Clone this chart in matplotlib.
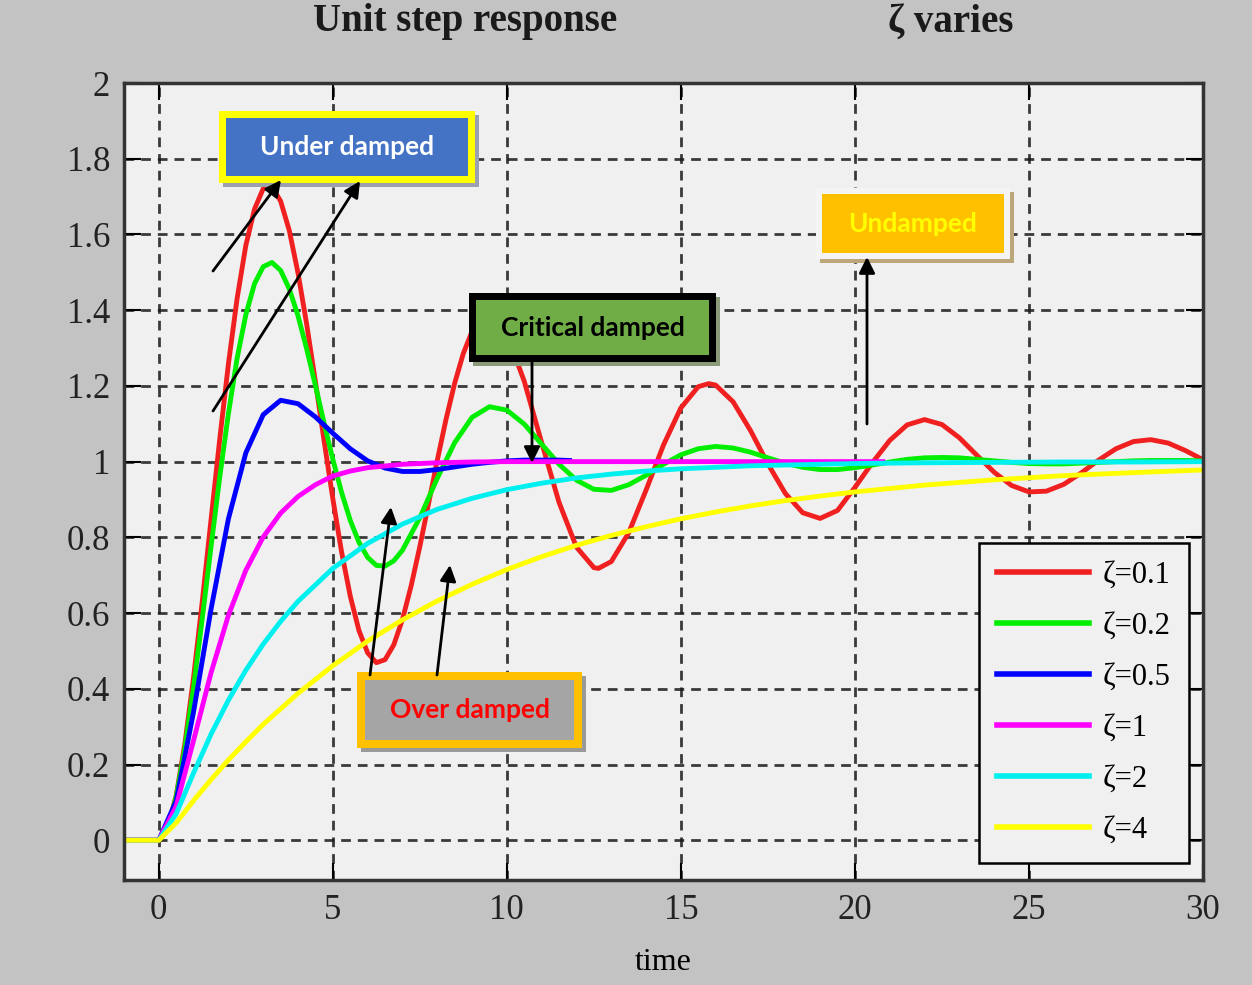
import matplotlib
matplotlib.use("Agg")
import matplotlib.pyplot as plt
from matplotlib.patches import Rectangle, FancyArrowPatch

# ---------------- data ----------------
t_z01 = [-1.0, 0.0, 0.25, 0.5, 0.75, 1.0, 1.25, 1.5, 1.75, 2.0, 2.25, 2.5, 2.75, 3.0, 3.25,
         3.5, 3.75, 4.0, 4.25, 4.5, 4.75, 5.0, 5.25, 5.5, 5.75, 6.0, 6.25, 6.5, 6.75, 7.0,
         7.25, 7.5, 7.75, 8.0, 8.25, 8.5, 8.75, 9.0, 9.5, 10.0, 10.5, 11.0, 11.5, 12.0, 12.5,
         12.63, 13.0, 13.5, 14.0, 14.5, 15.0, 15.5, 15.8, 16.0, 16.5, 17.0, 17.5, 18.0, 18.5,
         19.0, 19.5, 20.0, 20.5, 21.0, 21.5, 22.0, 22.5, 23.0, 23.5, 24.0, 24.5, 25.0, 25.5,
         26.0, 26.5, 27.0, 27.5, 28.0, 28.5, 29.0, 29.5, 30.0]
y_z01 = [0.0, 0.0, 0.031, 0.118, 0.256, 0.431, 0.632, 0.846, 1.059, 1.258, 1.431, 1.571,
         1.667, 1.721, 1.726, 1.688, 1.610, 1.498, 1.362, 1.211, 1.054, 0.902, 0.762, 0.645,
         0.554, 0.495, 0.469, 0.477, 0.516, 0.583, 0.672, 0.776, 0.889, 1.003, 1.111, 1.207,
         1.286, 1.344, 1.388, 1.337, 1.212, 1.050, 0.892, 0.774, 0.720, 0.718, 0.736, 0.812,
         0.925, 1.044, 1.142, 1.198, 1.206, 1.202, 1.158, 1.082, 0.994, 0.916, 0.865, 0.850,
         0.871, 0.932, 0.997, 1.056, 1.097, 1.111, 1.098, 1.063, 1.017, 0.972, 0.937, 0.920,
         0.922, 0.940, 0.970, 1.004, 1.034, 1.053, 1.058, 1.049, 1.029, 1.005]

t_z02 = [-1.0, 0.0, 0.25, 0.5, 0.75, 1.0, 1.25, 1.5, 1.75, 2.0, 2.25, 2.5, 2.75, 3.0, 3.25,
         3.5, 3.75, 4.0, 4.25, 4.5, 4.75, 5.0, 5.25, 5.5, 5.75, 6.0, 6.25, 6.5, 6.75, 7.0,
         7.5, 8.0, 8.5, 9.0, 9.5, 10.0, 10.5, 11.0, 11.5, 12.0, 12.5, 13.0, 13.5, 14.0, 14.5,
         15.0, 15.5, 16.0, 16.5, 17.0, 17.5, 18.0, 18.5, 19.0, 19.5, 20.0, 20.5, 21.0, 21.5,
         22.0, 22.5, 23.0, 23.5, 24.0, 24.5, 25.0, 25.5, 26.0, 26.5, 27.0, 27.5, 28.0, 28.5,
         29.0, 29.5, 30.0]
y_z02 = [0.0, 0.0, 0.030, 0.115, 0.244, 0.405, 0.587, 0.775, 0.959, 1.127, 1.273, 1.388,
         1.470, 1.515, 1.526, 1.505, 1.456, 1.385, 1.297, 1.201, 1.101, 1.006, 0.919, 0.845,
         0.787, 0.747, 0.726, 0.724, 0.738, 0.766, 0.852, 0.956, 1.050, 1.117, 1.145, 1.136,
         1.099, 1.046, 0.993, 0.951, 0.927, 0.924, 0.939, 0.964, 0.993, 1.018, 1.034, 1.040,
         1.036, 1.025, 1.010, 0.996, 0.985, 0.979, 0.979, 0.984, 0.991, 0.999, 1.006, 1.010,
         1.011, 1.010, 1.006, 1.002, 0.998, 0.995, 0.994, 0.994, 0.996, 0.998, 1.000, 1.002,
         1.003, 1.003, 1.003, 1.002]

t_z05 = [-1.0, 0.0, 0.5, 1.0, 1.5, 2.0, 2.5, 3.0, 3.5, 4.0, 4.5, 5.0, 5.5, 6.0, 6.5, 7.0,
         7.5, 8.0, 8.5, 9.0, 9.5, 10.0, 10.5, 11.0, 11.5, 11.8]
y_z05 = [0.0, 0.0, 0.104, 0.340, 0.610, 0.849, 1.023, 1.124, 1.162, 1.153, 1.118, 1.075,
         1.034, 1.002, 0.983, 0.974, 0.974, 0.979, 0.986, 0.993, 0.998, 1.002, 1.004, 1.004,
         1.004, 1.003]

t_z1 = [-1.0, 0.0, 0.5, 1.0, 1.5, 2.0, 2.5, 3.0, 3.5, 4.0, 4.5, 5.0, 5.5, 6.0,
        7.0, 8.0, 9.0, 10.0, 12.0, 15.0, 20.8]
y_z1 = [0.0, 0.0, 0.090, 0.264, 0.442, 0.594, 0.713, 0.801, 0.864, 0.908, 0.939, 0.962,
        0.975, 0.984, 0.993, 0.997, 0.999, 1.000, 1.000, 1.000, 1.000]

t_z2 = [-1.0, 0.0, 0.5, 1.0, 1.5, 2.0, 2.5, 3.0, 3.5, 4.0, 5.0, 6.0, 7.0, 8.0, 9.0, 10.0,
        11.0, 12.0, 13.0, 14.0, 15.0, 16.0, 17.0, 18.0, 20.0, 22.0, 24.0, 26.0, 28.0, 30.0]
y_z2 = [0.0, 0.0, 0.070, 0.178, 0.280, 0.370, 0.449, 0.518, 0.578, 0.631, 0.718, 0.784,
        0.835, 0.874, 0.903, 0.926, 0.943, 0.957, 0.967, 0.975, 0.981, 0.985, 0.989, 0.991,
        0.995, 0.997, 0.998, 0.999, 0.999, 1.000]

t_z4 = [-1.0, 0.0, 0.5, 1.0, 1.5, 2.0, 2.5, 3.0, 4.0, 5.0, 6.0, 7.0, 8.0, 9.0, 10.0, 11.0,
        12.0, 13.0, 14.0, 15.0, 16.0, 17.0, 18.0, 19.0, 20.0, 22.0, 24.0, 26.0, 28.0, 30.0]
y_z4 = [0.0, 0.0, 0.046, 0.105, 0.160, 0.212, 0.260, 0.306, 0.388, 0.461, 0.526, 0.582,
        0.632, 0.676, 0.715, 0.749, 0.779, 0.805, 0.828, 0.849, 0.867, 0.883, 0.897, 0.909,
        0.920, 0.938, 0.952, 0.963, 0.971, 0.978]

series_labels = ["\u03b6=0.1", "\u03b6=0.2", "\u03b6=0.5", "\u03b6=1", "\u03b6=2", "\u03b6=4"]
series_colors = ["#f02020", "#00ee00", "#0000ff", "#ff00ff", "#00f0f0", "#ffff00"]

x_ticks = [0, 5, 10, 15, 20, 25, 30]
y_ticks = [0, 0.2, 0.4, 0.6, 0.8, 1.0, 1.2, 1.4, 1.6, 1.8, 2.0]
y_ticklabels = ["0", "0.2", "0.4", "0.6", "0.8", "1", "1.2", "1.4", "1.6", "1.8", "2"]

# ---------------- figure ----------------
W, H = 1252, 985
fig = plt.figure(figsize=(W / 100, H / 100), dpi=100, facecolor="#c3c3c3")
ax = fig.add_axes([124 / W, 1 - 880 / H, (1203 - 124) / W, (880 - 83) / H])
ax.set_facecolor("#f0f0f0")

xs = [t_z01, t_z02, t_z05, t_z1, t_z2, t_z4]
ys = [y_z01, y_z02, y_z05, y_z1, y_z2, y_z4]
for x, y, lab, col in zip(xs, ys, series_labels, series_colors):
    ax.plot(x, y, color=col, lw=3.5, label=lab, solid_joinstyle="round")

ax.set_xlim(-1, 30)
ax.set_ylim(-0.105, 2.0)
ax.set_xticks(x_ticks)
ax.set_yticks(y_ticks)
ax.set_yticklabels(y_ticklabels)

serif = "Liberation Serif"
for lbl in ax.get_xticklabels() + ax.get_yticklabels():
    lbl.set_fontfamily(serif)
    lbl.set_fontsize(25)
    lbl.set_color("#222222")
ax.tick_params(direction="in", length=12, width=1.5, top=True, right=True, pad=10)

ax.grid(True, color="#1a1a1a", linestyle=(0, (3.5, 2.5)), linewidth=2.0, alpha=0.85)
for s in ax.spines.values():
    s.set_color("#333333")
    s.set_linewidth(2.5)

ax.set_xlabel("time", fontfamily=serif, fontsize=23, labelpad=15)

leg = ax.legend(loc="lower right", bbox_to_anchor=(0.987, 0.021), borderaxespad=0,
                prop={"family": serif, "size": 22}, handlelength=3.0,
                handletextpad=0.45, labelspacing=0.72, borderpad=0.6,
                fancybox=False, framealpha=1, facecolor="#f0f0f0", edgecolor="black")
leg.get_frame().set_linewidth(1.8)
for h in leg.get_lines():
    h.set_linewidth(4)

# titles
fig.text(465 / W, 1 - 22 / H, "Unit step response", ha="center", va="center",
         fontfamily=serif, fontweight="bold", fontsize=28, color="#1a1a1a")
fig.text(951 / W, 1 - 22 / H, "\u03b6 varies", ha="center", va="center",
         fontfamily=serif, fontweight="bold", fontsize=28, color="#1a1a1a")


# ---------------- annotation boxes ----------------
def rect(x0, y0, x1, y1, color, z):
    fig.add_artist(Rectangle((x0 / W, 1 - y1 / H), (x1 - x0) / W, (y1 - y0) / H,
                             transform=fig.transFigure, facecolor=color,
                             edgecolor="none", zorder=z))


def box(x0, y0, x1, y1, border, bw, face, text, tcolor, shadow):
    rect(x0 + 4, y0 + 4, x1 + 4, y1 + 4, shadow, 10)
    rect(x0, y0, x1, y1, border, 11)
    rect(x0 + bw, y0 + bw, x1 - bw, y1 - bw, face, 12)
    fig.text((x0 + x1) / 2 / W, 1 - (y0 + y1) / 2 / H, text, ha="center", va="center",
             fontfamily="Lato", fontweight="bold", fontsize=19, color=tcolor, zorder=13)


def arrow(xa, ya, xb, yb):
    fig.add_artist(FancyArrowPatch((xa / W, 1 - ya / H), (xb / W, 1 - yb / H),
                                   transform=fig.transFigure, arrowstyle="-|>",
                                   mutation_scale=24, lw=2, color="black",
                                   shrinkA=0, shrinkB=0, zorder=14))


box(219, 111, 475, 183, "#ffff00", 7, "#4472c4", "Under damped", "white", "#9aa0b0")
box(469, 293, 716, 362, "black", 7, "#70ad47", "Critical damped", "black", "#8a9a7a")
box(816, 188, 1010, 259, "#f4f4f4", 6, "#ffc000", "Undamped", "#ffff00", "#bca77a")
box(357, 672, 582, 748, "#ffc000", 8, "#a5a5a5", "Over damped", "#ff0000", "#9a9a9a")

arrow(213, 271, 281, 180)
arrow(213, 411, 360, 181)
arrow(532, 362, 532, 463)
arrow(867, 424, 867, 257)
arrow(370, 675, 391, 507)
arrow(437, 675, 450, 565)

fig.savefig("out.png", dpi=100, facecolor=fig.get_facecolor())
